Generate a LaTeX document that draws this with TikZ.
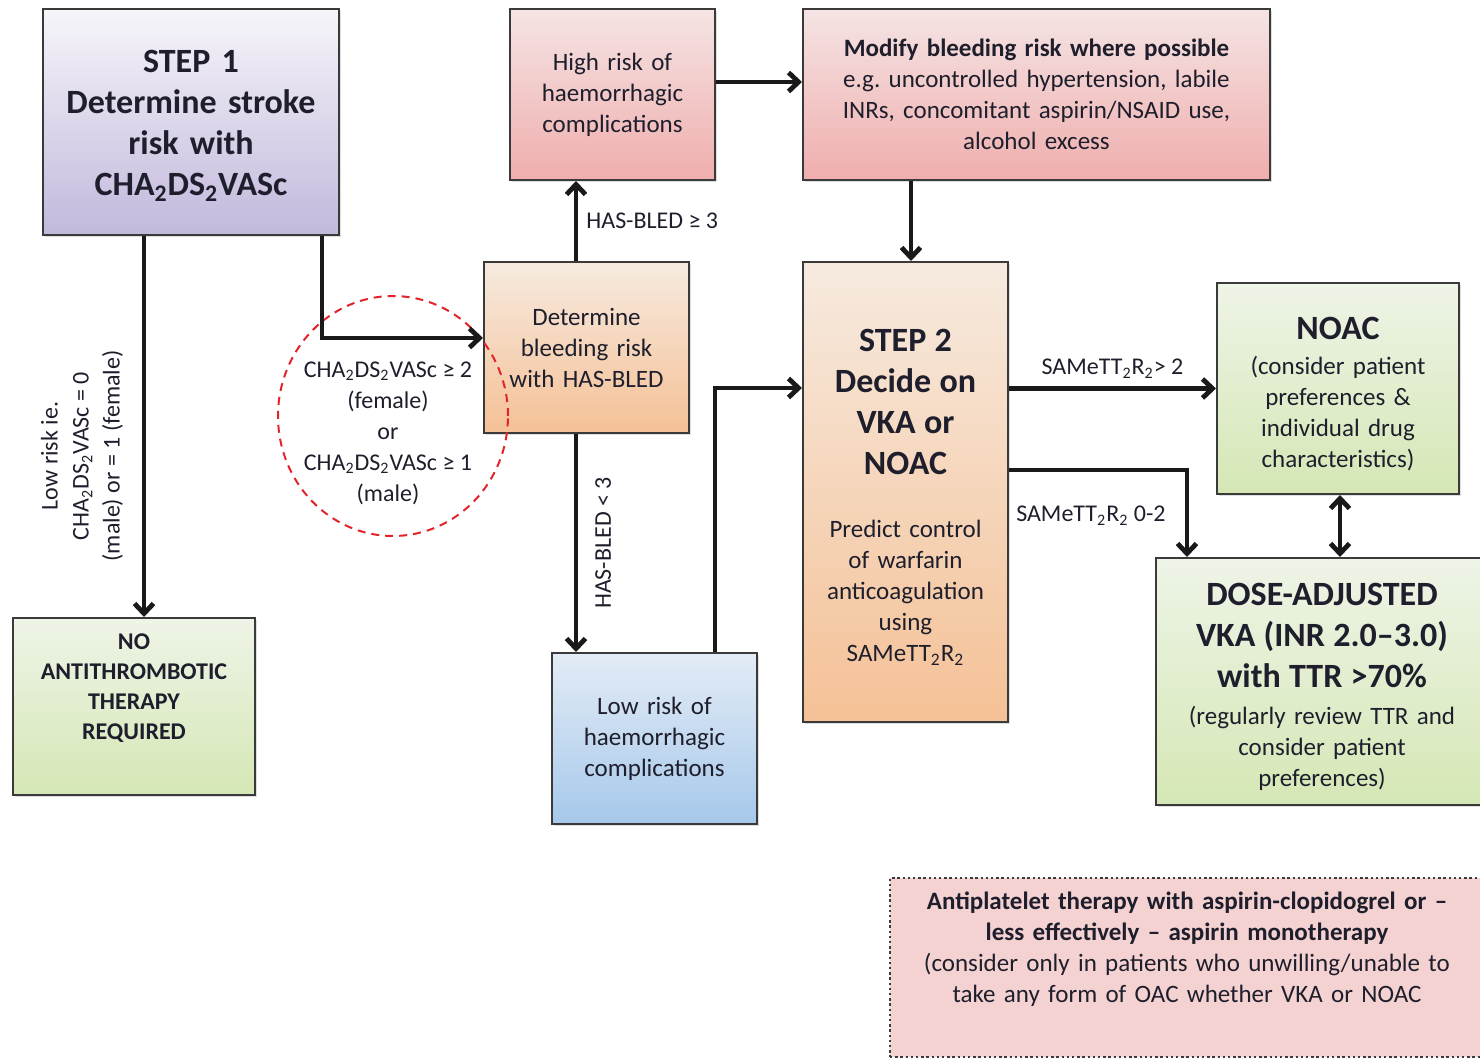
\documentclass[tikz,border=0pt]{standalone}
\usepackage{fontspec}
\setmainfont{Carlito}
\usetikzlibrary{arrows.meta,shadows}
\frenchspacing

\definecolor{ink}{HTML}{1E1E2C}
\definecolor{frame}{HTML}{3A3A3A}
\definecolor{ringred}{HTML}{E3232A}

\newcommand{\lo}[1]{\textsubscript{#1}}
\newcommand{\bigtxt}{\fontsize{17}{20.5}\selectfont\bfseries}
\newcommand{\bodytxt}{\fontsize{12.5}{15.5}\selectfont}
\newcommand{\lbltxt}{\fontsize{12}{15.5}\selectfont}

\tikzset{
  box/.style={draw=frame, line width=1pt, inner sep=2pt, align=center, text=ink,
    font=\bodytxt, drop shadow={opacity=0.25, shadow xshift=1.2pt, shadow yshift=-1.2pt}},
  lilac/.style={top color=white!70!lilacA, bottom color=lilacB},
  rose/.style={top color=roseA, bottom color=roseB},
  peach/.style={top color=peachA, bottom color=peachB},
  leaf/.style={top color=leafA, bottom color=leafB},
  sky/.style={top color=skyA, bottom color=skyB},
  arr/.style={line width=2.4pt, draw=black!90, -{Straight Barb[length=5pt,width=9.5pt]}},
  lbl/.style={font=\lbltxt, text=ink, align=center, inner sep=1pt}
}
\definecolor{lilacA}{HTML}{E3DEEE}
\definecolor{lilacB}{HTML}{C2B8DC}
\definecolor{roseA}{HTML}{F5E4E4}
\definecolor{roseB}{HTML}{EFAEAD}
\definecolor{peachA}{HTML}{F6EADF}
\definecolor{peachB}{HTML}{F5C196}
\definecolor{leafA}{HTML}{EEF4E7}
\definecolor{leafB}{HTML}{D5E7B5}
\definecolor{skyA}{HTML}{E3ECF6}
\definecolor{skyB}{HTML}{A6C8EA}
\definecolor{antifill}{HTML}{F4D2D1}

\begin{document}
\begin{tikzpicture}[x=0.5pt,y=-0.5pt]
\path[use as bounding box, clip] (0,0) rectangle (1480,1059);

% boxes
\node[box, lilac, minimum width=148pt, minimum height=113pt, text width=140pt, font=\bigtxt] (step1) at (191,122)
  {\rule{0pt}{15pt}STEP 1\\ Determine stroke\\ risk with\\ CHA\lo{2}DS\lo{2}VASc};
\node[box, leaf, minimum width=121pt, minimum height=88.5pt, text width=115pt, font=\fontsize{12}{15}\selectfont\bfseries] (norisk) at (134,706.5)
  {NO\\ ANTITHROMBOTIC\\ THERAPY\\ REQUIRED\\ \strut};
\node[box, rose, minimum width=102.5pt, minimum height=85.5pt, text width=95pt] (highrisk) at (612.5,94.5)
  {High risk of\\ haemorrhagic\\ complications};
\node[box, rose, minimum width=233.5pt, minimum height=85.5pt, text width=225pt] (modify) at (1036.5,94.5)
  {{\bfseries Modify bleeding risk where possible}\\ e.g.\ uncontrolled hypertension, labile\\ INRs, concomitant aspirin/NSAID use,\\ alcohol excess};
\node[box, peach, minimum width=102.5pt, minimum height=85.5pt, text width=95pt] (bleed) at (586.5,347.5)
  {Determine\\ bleeding risk\\ with HAS-BLED};
\node[box, sky, minimum width=102.5pt, minimum height=85.5pt, text width=95pt] (lowrisk) at (654.5,738.5)
  {Low risk of\\ haemorrhagic\\ complications};
\node[box, peach, minimum width=102.5pt, minimum height=230pt, text width=95pt] (step2) at (905.5,492)
  {{\bigtxt \rule{0pt}{16.5pt}STEP 2\\ Decide on\\ VKA or\\ NOAC\par}\vspace{16pt}
   Predict control\\ of warfarin\\ anticoagulation\\ using\\ SAMeTT\lo{2}R\lo{2}};
\node[box, leaf, minimum width=121pt, minimum height=105.5pt, text width=115pt] (noac) at (1338,388.5)
  {{\bigtxt \rule{0pt}{16.5pt}NOAC\par}\vspace{2pt}
   (consider patient\\ preferences \&\\ individual drug\\ characteristics)};
\node[box, leaf, minimum width=166pt, minimum height=123.5pt, text width=160pt] (dose) at (1322,681.5)
  {{\bigtxt \rule{0pt}{16.5pt}DOSE-ADJUSTED\\ VKA (INR 2.0–3.0)\\ with TTR >70\%\par}\vspace{3pt}
   (regularly review TTR and\\ consider patient\\ preferences)};
\node[draw=frame, line width=0.9pt, dash pattern=on 1.2pt off 1.4pt, fill=antifill, text=ink, font=\bodytxt,
  align=center, inner sep=2pt, minimum width=297pt, minimum height=89.5pt, text width=285pt] (anti) at (1187,967.5)
  {{\bfseries Antiplatelet therapy with aspirin-clopidogrel or –\\ less effectively – aspirin monotherapy}\\
   (consider only in patients who unwilling/unable to\\ take any form of OAC whether VKA or NOAC\\ \strut};

% criteria ring
\draw[ringred, line width=1pt, dash pattern=on 4pt off 3pt] (393,416) ellipse [x radius=57.5pt, y radius=60pt];
\node[lbl] (crit) at (388,433)
  {CHA\lo{2}DS\lo{2}VASc ≥ 2\\ (female)\\ or\\ CHA\lo{2}DS\lo{2}VASc ≥ 1\\ (male)};
\node[lbl, rotate=90] (lowlbl) at (82,456)
  {Low risk ie.\\ CHA\lo{2}DS\lo{2}VASc = 0\\ (male) or = 1 (female)};

% connectors
\draw[arr] ([xshift=-23.5pt]step1.south) -- ([xshift=5pt]norisk.north);
\draw[arr] ([xshift=65.5pt]step1.south) |- ([yshift=4.75pt]bleed.west);
\draw[arr] ([xshift=-5.25pt]bleed.north) -- ([xshift=-5.25pt]bleed.north |- highrisk.south)
  node[lbl, midway, right=3pt] {HAS-BLED ≥ 3};
\draw[arr] ([yshift=6.25pt]highrisk.east) -- ([yshift=6.25pt]highrisk.east -| modify.west);
\draw[arr] ([xshift=2.75pt]step2.north |- modify.south) -- ([xshift=2.75pt]step2.north);
\draw[arr] ([xshift=-5.25pt]bleed.south) -- ([xshift=-5.25pt]bleed.south |- lowrisk.north)
  node[lbl, midway, right=7.5pt, rotate=90, anchor=north] {HAS-BLED < 3};
\draw[arr] ([xshift=30.25pt]lowrisk.north) |- ([yshift=52pt]step2.west);
\draw[arr] (noac.west -| step2.east) -- (noac.west)
  node[lbl, midway, above=3pt] {SAMeTT\lo{2}R\lo{2}> 2};
\draw[arr] ([yshift=11pt]step2.east) -| ([xshift=-67.5pt]dose.north)
  node[lbl, pos=0.23, below=16pt] {SAMeTT\lo{2}R\lo{2} 0-2};
\draw[arr, {Straight Barb[length=5pt,width=9.5pt]}-{Straight Barb[length=5pt,width=9.5pt]}]
  ([xshift=1pt]noac.south) -- ([xshift=1pt]noac.south |- dose.north);
\end{tikzpicture}
\end{document}
